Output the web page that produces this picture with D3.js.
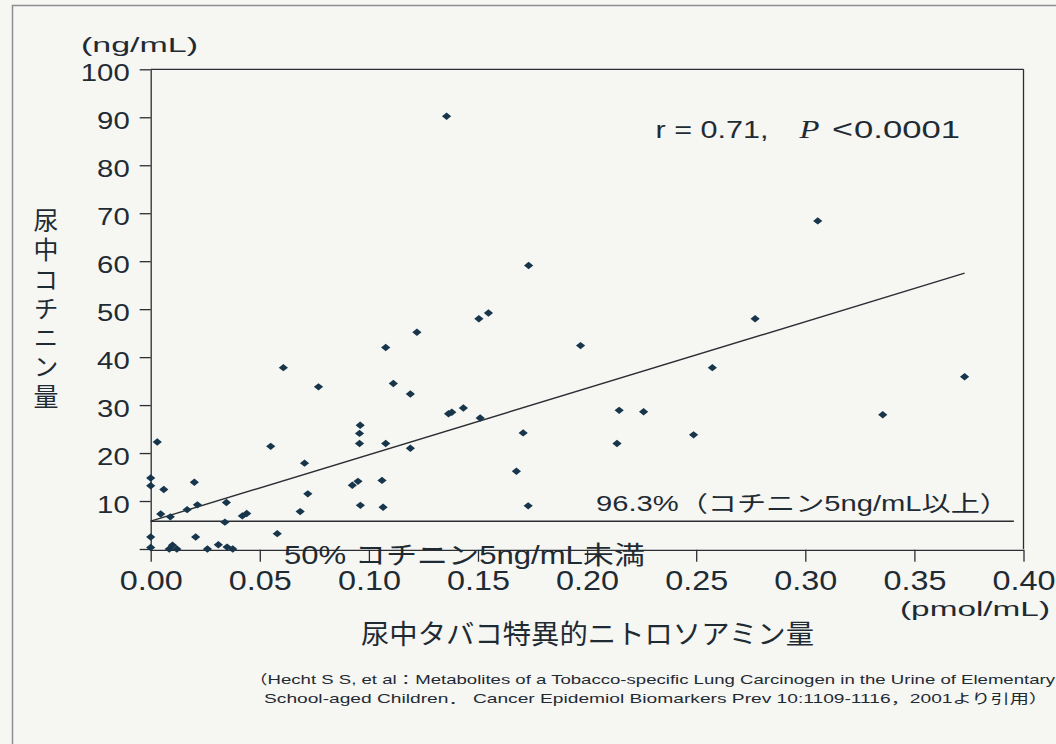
<!DOCTYPE html>
<html><head><meta charset="utf-8">
<script src="https://cdn.jsdelivr.net/npm/d3@7"></script>
<style>body{margin:0;background:#f6f6f3}svg{display:block}</style>
</head><body><svg id="c" width="1056" height="744"></svg>
<script>
// ---- data ----
const xTicks = [0, 0.05, 0.10, 0.15, 0.20, 0.25, 0.30, 0.35, 0.40];
const xTickLabels = ["0.00","0.05","0.10","0.15","0.20","0.25","0.30","0.35","0.40"];
const yTicks = [0,10,20,30,40,50,60,70,80,90,100];
const yTickLabels = ["","10","20","30","40","50","60","70","80","90","100"];
// urinary NNAL+NNAL-Gluc (pmol/mL)
const nnal = [0,0,0.003,0.006,0.020,0.0046,0.009,0.0167,0.0214,0.0347,0.034,0.042,0.044,
  0,0,0.0085,0.010,0.012,0.0206,0.026,0.031,0.035,0.0376,0.058,0.055,0.0685,0.0705,0.072,
  0.0769,0.0608,0.0924,0.095,0.0957,0.0957,0.096,0.0961,0.106,0.1065,0.1077,0.1112,0.119,
  0.119,0.1077,0.122,0.1365,0.138,0.1433,0.151,0.1707,0.1676,0.173,0.1356,0.1732,0.1504,
  0.1548,0.3057,0.277,0.197,0.2574,0.373,0.2147,0.2259,0.3355,0.2137,0.2488];
// urinary cotinine (ng/mL)
const cotinine = [14.8,13.2,22.3,12.4,13.9,7.3,6.7,8.2,9.2,9.7,5.6,6.9,7.4,
  2.5,0.3,0,0.8,0,2.5,0,0.9,0.4,0,3.2,21.4,7.8,17.9,11.5,
  33.8,37.8,13.3,14.1,22.0,24.1,25.8,9.1,14.3,8.7,22.0,34.5,21.0,
  32.3,42.0,45.2,28.2,28.5,29.4,27.3,24.2,16.2,9.0,90.2,59.1,48.0,
  49.2,68.4,48.0,42.4,37.8,35.9,28.9,28.6,28.0,22.0,23.8];
const fitX = [0, 0.373];
const fitY = [5.8, 57.5];
const cutoffX = [0, 0.3956];
const cutoffY = [5.8, 5.8];

const yUnit = "(ng/mL)";
const xUnit = "(pmol/mL)";
const yTitle = "尿中コチニン量";
const xTitle = "尿中タバコ特異的ニトロソアミン量";
const statText = ["r = 0.71,", "P", "<", "0.0001"];
const aboveText = "96.3%（コチニン5ng/mL以上）";
const belowText = "50% コチニン5ng/mL未満";
const cite1 = "（Hecht S S, et al：Metabolites of a Tobacco-specific Lung Carcinogen in the Urine of Elementary";
const cite2 = "School-aged Children．  Cancer Epidemiol Biomarkers Prev 10:1109-1116，2001より引用）";

// ---- drawing ----
const W = 1056, H = 744;
const INK = "#1f2b33", MARK = "#17364b", LINE = "#2a2e33";
const SANS = "'Liberation Sans', Arial, 'Noto Sans CJK JP', sans-serif";
const CJK = "'Noto Sans CJK JP', sans-serif";
const svg = d3.select("#c");
svg.append("rect").attr("width", W).attr("height", H).attr("fill", "#f6f6f3");
svg.append("rect").attr("x", 12.5).attr("y", 5.5).attr("width", 1070).attr("height", 780)
  .attr("fill", "none").attr("stroke", "#8c8f92").attr("stroke-width", 1.5);

const x = d3.scaleLinear().domain([0, 0.4]).range([150.7, 1023.5]);
const y = d3.scaleLinear().domain([0, 100]).range([549, 69.3]);

function label(px, py, str, o) {
  const t = svg.append("text").attr("x", px).attr("y", py).text(str)
    .attr("font-family", o.family || SANS).attr("font-size", o.size)
    .attr("fill", INK).attr("text-anchor", o.anchor || "start");
  if (o.style) t.attr("font-style", o.style);
  if (o.width) t.attr("textLength", o.width).attr("lengthAdjust", "spacingAndGlyphs");
  return t;
}

// frame top & right
svg.append("line").attr("x1", x(0)).attr("x2", x(0.4)).attr("y1", y(100)).attr("y2", y(100))
  .attr("stroke", LINE).attr("stroke-width", 1.3);
svg.append("line").attr("x1", x(0.4)).attr("x2", x(0.4)).attr("y1", y(100)).attr("y2", y(0))
  .attr("stroke", LINE).attr("stroke-width", 1.3);

// axes
const gy = svg.append("g").attr("transform", `translate(${x(0)},0)`)
  .call(d3.axisLeft(y).tickValues(yTicks).tickSize(11).tickSizeOuter(0)
    .tickFormat((d, i) => yTickLabels[i]));
gy.attr("font-family", SANS).attr("font-size", 24);
gy.selectAll("path,line").attr("stroke", LINE).attr("stroke-width", 1.3);
gy.selectAll("text").attr("fill", INK).attr("x", -21).attr("dy", 0).attr("y", 11.5)
  .each(function(d, i) {
    const s = yTickLabels[i];
    if (s.length) d3.select(this).attr("textLength", s.length * 16.3).attr("lengthAdjust", "spacingAndGlyphs");
  });

const gx = svg.append("g").attr("transform", `translate(0,${y(0) + 0.8})`)
  .call(d3.axisBottom(x).tickValues(xTicks).tickSize(12).tickSizeOuter(0)
    .tickFormat((d, i) => xTickLabels[i]));
gx.attr("font-family", SANS).attr("font-size", 27);
gx.selectAll("path,line").attr("stroke", LINE).attr("stroke-width", 1.3);
gx.selectAll("text").attr("fill", INK).attr("y", 40.7).attr("dy", 0)
  .attr("textLength", 63).attr("lengthAdjust", "spacingAndGlyphs");

// cutoff line and regression line
const ln = d3.line().x(d => x(d[0])).y(d => y(d[1]));
svg.append("path").attr("d", ln(d3.zip(cutoffX, cutoffY))).attr("fill", "none")
  .attr("stroke", LINE).attr("stroke-width", 1.4);
svg.append("path").attr("d", ln(d3.zip(fitX, fitY))).attr("fill", "none")
  .attr("stroke", LINE).attr("stroke-width", 1.4);

// points (diamonds)
const pts = d3.zip(nnal, cotinine);
svg.append("g").selectAll("path").data(pts).join("path")
  .attr("d", d => `M${x(d[0])},${y(d[1]) - 3.7}L${x(d[0]) + 4.6},${y(d[1])}L${x(d[0])},${y(d[1]) + 3.7}L${x(d[0]) - 4.6},${y(d[1])}Z`)
  .attr("fill", MARK);

// texts
label(81, 52, yUnit, { size: 21, width: 117 });
label(900, 616, xUnit, { size: 21, width: 150 });
label(361, 644, xTitle, { size: 27, family: CJK, width: 453 });
svg.append("text").attr("x", 46).attr("y", 208).text(yTitle)
  .attr("font-family", CJK).attr("font-size", 25).attr("fill", INK)
  .attr("writing-mode", "vertical-rl").attr("letter-spacing", 4.3)
  .style("writing-mode", "vertical-rl");
label(655.5, 138.3, statText[0], { size: 24.5, width: 113 });
label(799.5, 138.3, statText[1], { size: 25, family: "'Liberation Serif', 'Times New Roman', serif", style: "italic", width: 20 });
label(832, 137.5, statText[2], { size: 26, width: 21 });
label(854, 138.3, statText[3], { size: 24.5, width: 106 });
label(596, 511, aboveText, { size: 22, width: 413 });
label(284, 563.5, belowText, { size: 25, width: 361 });
label(249, 684, cite1, { size: 13, width: 806 });
label(264, 703, cite2, { size: 13, width: 784 });
</script></body></html>
